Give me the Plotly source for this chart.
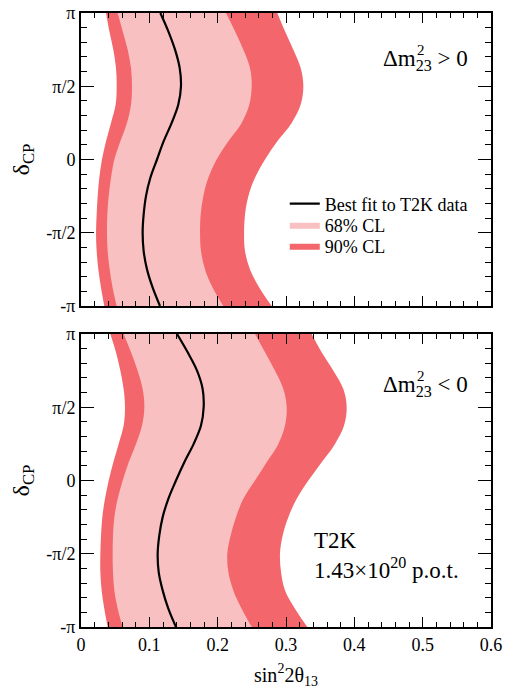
import numpy as np
import plotly.graph_objects as go
from plotly.subplots import make_subplots

PI = np.pi

# delta_CP sample levels (in units of pi), from +pi down to -pi in steps of pi/8
delta_frac = [1, 0.875, 0.75, 0.625, 0.5, 0.375, 0.25, 0.125, 0,
              -0.125, -0.25, -0.375, -0.5, -0.625, -0.75, -0.875, -1]
delta_cp = [f * PI for f in delta_frac]

# Normal hierarchy, Delta m^2_23 > 0 (top panel): sin^2 2theta13 boundaries
nh_90_left = [0.0366, 0.0415, 0.0473, 0.0512, 0.0522, 0.0507, 0.0439, 0.0366, 0.0307,
              0.0268, 0.0244, 0.0229, 0.0220, 0.0229, 0.0254, 0.0293, 0.0341]
nh_68_left = [0.0537, 0.0610, 0.0683, 0.0732, 0.0746, 0.0732, 0.0673, 0.0576, 0.0488,
              0.0439, 0.0405, 0.0385, 0.0380, 0.0390, 0.0420, 0.0463, 0.0522]
nh_best = [0.1161, 0.1278, 0.1376, 0.1444, 0.1463, 0.1424, 0.1327, 0.1210, 0.1112,
           0.1015, 0.0951, 0.0917, 0.0902, 0.0917, 0.0966, 0.1049, 0.1156]
nh_68_right = [0.2122, 0.2254, 0.2376, 0.2473, 0.2498, 0.2463, 0.2351, 0.2156, 0.1985,
               0.1863, 0.1790, 0.1751, 0.1742, 0.1756, 0.1815, 0.1927, 0.2083]
nh_90_right = [0.2873, 0.2985, 0.3107, 0.3215, 0.3254, 0.3215, 0.3083, 0.2873, 0.2693,
               0.2546, 0.2449, 0.2400, 0.2386, 0.2400, 0.2473, 0.2610, 0.2790]

# Inverted hierarchy, Delta m^2_23 < 0 (bottom panel)
ih_90_left = [0.0429, 0.0512, 0.0576, 0.0624, 0.0644, 0.0624, 0.0551, 0.0473, 0.0405,
              0.0351, 0.0312, 0.0293, 0.0283, 0.0283, 0.0302, 0.0341, 0.0390]
ih_68_left = [0.0624, 0.0732, 0.0829, 0.0902, 0.0927, 0.0893, 0.0805, 0.0698, 0.0610,
              0.0537, 0.0488, 0.0468, 0.0463, 0.0468, 0.0488, 0.0537, 0.0610]
ih_best = [0.1405, 0.1561, 0.1698, 0.1780, 0.1795, 0.1756, 0.1649, 0.1512, 0.1390,
           0.1278, 0.1195, 0.1146, 0.1122, 0.1137, 0.1195, 0.1278, 0.1390]
ih_68_right = [0.2546, 0.2693, 0.2839, 0.2961, 0.3010, 0.2985, 0.2888, 0.2717, 0.2546,
               0.2376, 0.2268, 0.2190, 0.2141, 0.2156, 0.2229, 0.2351, 0.2498]
ih_90_right = [0.3376, 0.3522, 0.3693, 0.3839, 0.3888, 0.3849, 0.3717, 0.3522, 0.3327,
               0.3157, 0.3034, 0.2951, 0.2912, 0.2927, 0.2986, 0.3132, 0.3312]

# Axis ticks
x_major = [0, 0.1, 0.2, 0.3, 0.4, 0.5, 0.6]
x_major_text = ["0", "0.1", "0.2", "0.3", "0.4", "0.5", "0.6"]
y_major = [-PI, -PI / 2, 0, PI / 2, PI]
y_major_text = ["-π", "-π/2", "0", "π/2", "π"]
y_minor = [k * PI / 10 for k in range(-10, 11)]

COL90 = "#F3676C"
COL68 = "#F9C0C1"
FONT = "Liberation Serif"

fig = make_subplots(rows=2, cols=1)

panels = [
    (1, nh_90_left, nh_90_right, nh_68_left, nh_68_right, nh_best, True),
    (2, ih_90_left, ih_90_right, ih_68_left, ih_68_right, ih_best, False),
]

for row, l90, r90, l68, r68, best, leg in panels:
    fig.add_trace(go.Scatter(x=l90, y=delta_cp, mode="lines", line=dict(width=0, color=COL90, shape="spline"),
                             showlegend=False, hoverinfo="skip"), row=row, col=1)
    fig.add_trace(go.Scatter(x=r90, y=delta_cp, mode="lines", line=dict(width=0, color=COL90, shape="spline"),
                             fill="tonextx", fillcolor=COL90, name="90% CL", showlegend=leg, legend="legend3",
                             hoverinfo="skip"), row=row, col=1)
    fig.add_trace(go.Scatter(x=l68, y=delta_cp, mode="lines", line=dict(width=0, color=COL68, shape="spline"),
                             showlegend=False, hoverinfo="skip"), row=row, col=1)
    fig.add_trace(go.Scatter(x=r68, y=delta_cp, mode="lines", line=dict(width=0, color=COL68, shape="spline"),
                             fill="tonextx", fillcolor=COL68, name="68% CL", showlegend=leg, legend="legend2",
                             hoverinfo="skip"), row=row, col=1)
    fig.add_trace(go.Scatter(x=best, y=delta_cp, mode="lines", line=dict(width=2.2, color="black", shape="spline"),
                             name="Best fit to T2K data", showlegend=leg, legend="legend"), row=row, col=1)

axis_common = dict(showline=True, linewidth=2, linecolor="black", mirror="ticks", ticks="inside",
                   tickwidth=1.4, tickcolor="black", showgrid=False, zeroline=False, automargin=False,
                   tickfont=dict(family=FONT, size=18, color="black"))

for row in (1, 2):
    fig.update_xaxes(range=[0, 0.6], tickmode="array", tickvals=x_major, ticktext=x_major_text,
                     ticklen=10, showticklabels=(row == 2),
                     minor=dict(ticks="inside", ticklen=5, tickwidth=1.2, tickcolor="black",
                                tick0=0, dtick=0.02, showgrid=False),
                     **axis_common, row=row, col=1)
    fig.update_yaxes(range=[-PI, PI], tickmode="array", tickvals=y_major, ticktext=y_major_text,
                     ticklen=13,
                     minor=dict(ticks="inside", ticklen=6, tickwidth=1.2, tickcolor="black",
                                tickmode="array", tickvals=y_minor, showgrid=False),
                     title=dict(text="δ<sub>CP</sub>", font=dict(family=FONT, size=24, color="black"), standoff=10),
                     **axis_common, row=row, col=1)

fig.update_xaxes(title=dict(text="sin<sup>2</sup>2θ<sub>13</sub>", font=dict(family=FONT, size=20, color="black"),
                            standoff=14), row=2, col=1)

fig.update_layout(
    yaxis=dict(domain=[0.5228, 1.0]),
    yaxis2=dict(domain=[0.0, 0.4772]),
)

annotations = [
    dict(text="Δm<sub>23</sub> > 0", x=0.949, y=0.9235, xanchor="right", yanchor="middle", size=23),
    dict(text="2", x=0.8146, y=0.94, xanchor="left", yanchor="middle", size=15),
    dict(text="Δm<sub>23</sub> < 0", x=0.949, y=0.3925, xanchor="right", yanchor="middle", size=23),
    dict(text="2", x=0.8146, y=0.409, xanchor="left", yanchor="middle", size=15),
    dict(text="T2K<br>1.43×10<sup>20</sup> p.o.t.", x=0.564, y=0.117, xanchor="left", yanchor="middle", size=23,
         align="left"),
]
for a in annotations:
    fig.add_annotation(text=a["text"], x=a["x"], y=a["y"], xref="paper", yref="paper",
                       xanchor=a["xanchor"], yanchor=a["yanchor"], showarrow=False,
                       align=a.get("align", "center"),
                       font=dict(family=FONT, size=a["size"], color="black"))

leg_common = dict(x=0.497, xanchor="left", yanchor="middle", bgcolor="rgba(0,0,0,0)",
                  font=dict(family=FONT, size=18, color="black"), itemwidth=30)

fig.update_layout(
    width=505, height=694,
    margin=dict(l=81, r=14, t=13, b=67, autoexpand=False),
    paper_bgcolor="white", plot_bgcolor="white",
    font=dict(family=FONT, size=18, color="black"),
    legend=dict(y=0.6889, **leg_common),
    legend2=dict(y=0.6547, **leg_common),
    legend3=dict(y=0.6205, **leg_common),
)

fig.write_html("out.html", config={"displayModeBar": False},
               post_script="document.body.style.margin='0px';")
